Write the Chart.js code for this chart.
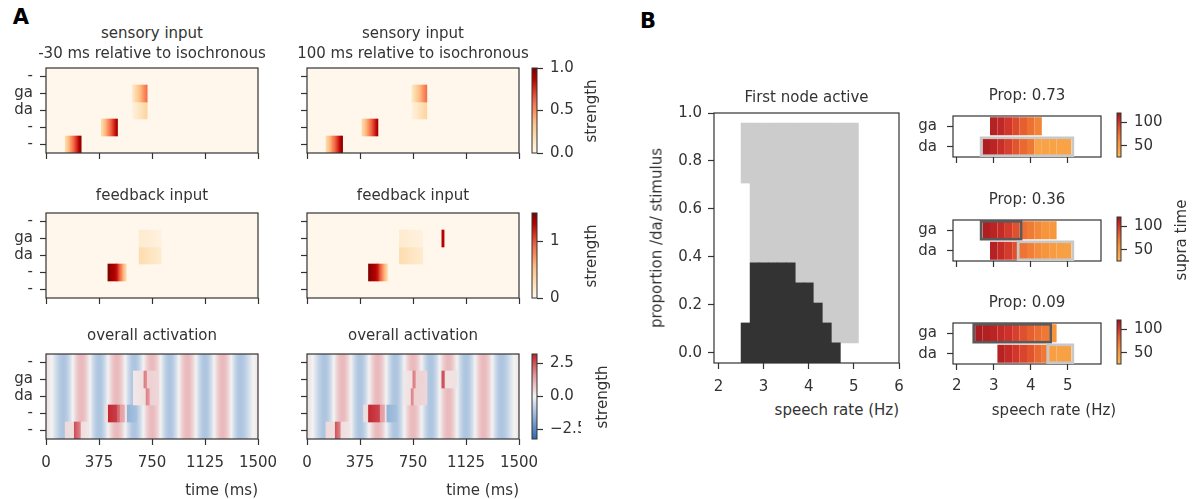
<!DOCTYPE html>
<html><head><meta charset="utf-8">
<script src="https://cdn.jsdelivr.net/npm/chart.js@4.4.1/dist/chart.umd.min.js"></script>
<style>
html,body{margin:0;padding:0;background:#fff;}
#fig{position:relative;width:1195px;height:499px;overflow:hidden;font-family:"DejaVu Sans",sans-serif;color:#333;}
canvas{position:absolute;}
.t{position:absolute;white-space:nowrap;line-height:1;}
</style></head><body><div id="fig"></div>
<script>
// ================= DATA =================
// Panel A heatmaps
const TIME_TICKS = [0, 375, 750, 1125, 1500];
const ROWS = [0, 1, 2, 3, 4];                       // bottom .. top
const ROW_LABELS = ['-', '-', 'da', 'ga', '-'];
// blocks: [row, start ms, end ms, strength at start, strength at end]
const SENSORY_M30  = [[0,136,249,0.2,0.98],[1,391,506,0.2,0.92],[2,612,716,0.05,0.25],[3,612,716,0.12,0.6]];
const SENSORY_P100 = [[0,134,252,0.2,0.98],[1,389,502,0.2,0.92],[2,742,848,0.05,0.25],[3,742,848,0.12,0.6]];
const FEEDBACK_M30  = [[1,438,500,1.5,1.25],[1,500,568,1.25,0.3],[2,659,815,0.3,0.15],[3,659,815,0.15,0.07]];
const FEEDBACK_P100 = [[1,435,497,1.5,1.25],[1,497,570,1.25,0.3],[2,654,819,0.3,0.15],[3,654,819,0.15,0.07],[3,954,970,1.3,1.3]];
// background oscillation of overall activation (peak times, values)
const OSC_TIMES  = [0,125,250,375,500,625,750,875,1000,1125,1250,1375,1500];
const OSC_VALUES = [0.3,-1.1,1.0,-1.1,1.0,-1.1,1.0,-1.1,1.0,-1.1,1.0,-1.1,0.2];
const OVERALL_M30 = [
  [0,136,200,0.45,0.35],[0,200,248,2.6,1.8],[0,248,295,0.4,0.25],
  [1,417,441,0.4,0.4],[1,441,505,3.1,2.8],[1,505,525,2.3,2.1],[1,525,560,1.5,1.2],[1,560,575,0.2,0.2],[1,575,641,-1.5,-1.2],
  [2,618,708,0.2,0.35],[2,708,736,1.9,1.5],[2,736,795,0.6,0.5],
  [3,618,693,0.2,0.35],[3,693,717,2.0,1.6],[3,717,795,0.6,0.5]
];
const OVERALL_P100 = [
  [0,134,200,0.45,0.35],[0,200,240,2.5,1.8],[0,240,294,0.4,0.25],
  [1,400,435,0.4,0.4],[1,435,518,3.1,2.7],[1,518,553,1.6,1.3],[1,553,565,0.2,0.2],[1,565,636,-1.5,-1.2],
  [2,683,737,0.2,0.35],[2,737,758,1.9,1.5],[2,758,848,0.6,0.5],
  [3,683,749,0.2,0.35],[3,749,772,2.0,1.6],[3,772,848,0.6,0.5],
  [3,954,977,2.6,2.4],[3,977,1060,0.3,0.3]
];
const SENSORY_RANGE = [0, 1],      SENSORY_TICKS = [0, 0.5, 1];
const FEEDBACK_RANGE = [0, 1.5],   FEEDBACK_TICKS = [0, 1];
const OVERALL_RANGE = [-3.23, 3.23], OVERALL_TICKS = [-2.5, 0, 2.5];

// Panel B: first node active
const RATE_TICKS = [2, 3, 4, 5, 6];
const PROP_TICKS = [0, 0.2, 0.4, 0.6, 0.8, 1.0];
const RATES = [2.6,2.8,3.0,3.2,3.4,3.6,3.8,4.0,4.2,4.4,4.6,4.8,5.0];
const PROP_LOW = -0.042, PROP_HIGH = 0.958;
const DA_FIRST_TOP = [0.125,0.375,0.375,0.375,0.375,0.375,0.292,0.292,0.208,0.125,0.042,null,null];
const GA_FIRST_BOTTOM = [0.708,0.375,0.375,0.375,0.375,0.375,0.292,0.292,0.208,0.125,0.042,0.042,0.042];

// Panel B: supra-threshold time per speech-rate cell
const SMALL_RATE_TICKS = [2, 3, 4, 5];
const RATE_STEP = 0.2;
const PROPS = ['0.73', '0.36', '0.09'];
const GA_START = [2.9, 2.7, 2.5];
const GA_SUPRA = [[112,108,100,92,84,76,66],[114,110,106,98,90,76,70,64,56,54],[116,113,110,106,102,96,90,84,78,72,56]];
const DA_START = [2.7, 2.9, 3.1];
const DA_SUPRA = [[114,110,104,96,88,80,72,44,44,44,44,44],[112,106,98,90,74,68,62,56,50,48,46],[112,106,100,94,88,80,72,48,46,46]];
const GA_BOX = [null, [2.7, 3.7], [2.5, 4.5]];
const DA_BOX = [[2.7, 5.1], [3.7, 5.1], [4.5, 5.1]];
const SUPRA_RANGE = [26, 120], SUPRA_TICKS = [50, 100];

// ================= STYLE / HELPERS =================
Chart.defaults.font.family = "'DejaVu Sans', sans-serif";
Chart.defaults.font.size = 15;
Chart.defaults.color = '#333';
Chart.defaults.animation = false;
Chart.defaults.events = [];
Chart.defaults.plugins.legend.display = false;
Chart.defaults.plugins.tooltip.enabled = false;
const INK = '#333333';
const fig = document.getElementById('fig');

function lerpStops(stops, n) {
  n = Math.max(0, Math.min(1, n));
  for (let i = 1; i < stops.length; i++) {
    if (n <= stops[i][0]) {
      const [p0, c0] = stops[i-1], [p1, c1] = stops[i];
      const f = (n - p0) / ((p1 - p0) || 1);
      return 'rgb(' + c0.map((c, k) => Math.round(c + (c1[k] - c) * f)).join(',') + ')';
    }
  }
  return 'rgb(' + stops[stops.length-1][1].join(',') + ')';
}
const ORRD = [[0,[255,247,236]],[0.125,[254,232,200]],[0.25,[253,212,158]],[0.375,[253,187,132]],[0.5,[252,141,89]],[0.625,[239,101,72]],[0.75,[215,48,31]],[0.875,[179,0,0]],[1,[127,0,0]]];
const DIV = [[0,[44,105,180]],[0.25,[140,175,215]],[0.5,[243,243,243]],[0.75,[228,150,155]],[1,[192,32,42]]];
const SUP = [[0,[252,184,84]],[0.35,[246,146,58]],[0.6,[232,100,48]],[0.8,[208,50,42]],[1,[160,22,30]]];
const cmapOf = (stops, r) => v => lerpStops(stops, (v - r[0]) / (r[1] - r[0]));
const CM_SENS = cmapOf(ORRD, SENSORY_RANGE), CM_FB = cmapOf(ORRD, FEEDBACK_RANGE);
const CM_ALL = cmapOf(DIV, OVERALL_RANGE), CM_SUP = cmapOf(SUP, SUPRA_RANGE);

// colour gradient across one block; 'smooth' uses a cosine ease between the two end values
function hGrad(chart, raw, cmap, smooth) {
  const xs = chart.scales.x;
  const p0 = xs.getPixelForValue(raw.x[0]), p1 = xs.getPixelForValue(raw.x[1]);
  if (!isFinite(p0) || !isFinite(p1) || Math.abs(p1 - p0) < 0.5 || raw.v0 === raw.v1) return cmap((raw.v0 + raw.v1) / 2);
  const g = chart.ctx.createLinearGradient(p0, 0, p1, 0);
  const N = 16;
  for (let i = 0; i <= N; i++) {
    const f = smooth ? (1 - Math.cos(Math.PI * i / N)) / 2 : i / N;
    g.addColorStop(i / N, cmap(raw.v0 + (raw.v1 - raw.v0) * f));
  }
  return g;
}
function vGrad(chart, lo, hi, cmap) {
  const ys = chart.scales.y;
  const p0 = ys ? ys.getPixelForValue(lo) : NaN, p1 = ys ? ys.getPixelForValue(hi) : NaN;
  if (!isFinite(p0) || !isFinite(p1) || Math.abs(p1 - p0) < 0.5) return cmap((lo + hi) / 2);
  const g = chart.ctx.createLinearGradient(0, p0, 0, p1);
  const N = 16;
  for (let i = 0; i <= N; i++) g.addColorStop(i / N, cmap(lo + (hi - lo) * i / N));
  return g;
}

const framePlugin = {
  id: 'frame',
  afterDatasetsDraw(chart, args, opts) {
    if (!opts || !opts.show) return;
    const a = chart.chartArea, ctx = chart.ctx;
    ctx.save(); ctx.strokeStyle = INK; ctx.lineWidth = opts.lw || 1.2;
    ctx.strokeRect(a.left, a.top, a.right - a.left, a.bottom - a.top);
    ctx.restore();
  }
};
const boxPlugin = {
  id: 'boxes',
  afterDatasetsDraw(chart, args, opts) {
    if (!opts || !opts.items) return;
    const ctx = chart.ctx, xs = chart.scales.x, ys = chart.scales.y;
    const rowH = Math.abs(ys.getPixelForValue(0) - ys.getPixelForValue(1));
    opts.items.forEach(b => {
      const x0 = xs.getPixelForValue(b.x0), x1 = xs.getPixelForValue(b.x1), yc = ys.getPixelForValue(b.row);
      ctx.save(); ctx.strokeStyle = b.color; ctx.lineWidth = 2.6;
      ctx.strokeRect(x0 - 1.5, yc - rowH / 2 + 1.3, x1 - x0 + 3, rowH - 2.6);
      ctx.restore();
    });
  }
};
Chart.register(framePlugin, boxPlugin);

function linAxis(o) {
  return {
    type: 'linear', min: o.min, max: o.max, position: o.pos, offset: false,
    afterBuildTicks: s => { s.ticks = o.ticks.map(v => ({value: v})); },
    afterFit: s => { if (s.isHorizontal()) s.height = o.size; else s.width = o.size; },
    ticks: {display: o.show !== false, color: INK, padding: o.pad == null ? 6 : o.pad, autoSkip: false, maxRotation: 0,
            callback: o.fmt || (v => String(v))},
    grid: {display: true, offset: false, drawOnChartArea: false, drawTicks: true, tickLength: 6, color: INK, tickColor: INK, tickWidth: 1.2},
    border: {display: false}
  };
}

function makeChart(area, cfg, pad) {
  const c = document.createElement('canvas');
  const W = area.w + pad.l + pad.r, H = area.h + pad.t + pad.b;
  c.width = W; c.height = H;
  c.style.left = (area.l - pad.l) + 'px'; c.style.top = (area.t - pad.t) + 'px';
  c.style.width = W + 'px'; c.style.height = H + 'px';
  fig.appendChild(c);
  cfg.options.responsive = false;
  cfg.options.devicePixelRatio = 1;
  cfg.options.layout = {padding: {left: pad.l - (pad.yl || 0), right: pad.r - (pad.yr || 0), top: pad.t, bottom: pad.b - (pad.xb || 0)}};
  const ch = new Chart(c, cfg);
  ch.update('none');
  return ch;
}

const blocksToData = blocks => blocks.map(b => ({x: [b[1], b[2]], y: b[0], v0: b[3], v1: b[4]}));
const flatBackground = v => ROWS.map(r => ({x: [0, 1500], y: r, v0: v, v1: v}));
const oscBackground = () => ROWS.flatMap(r => OSC_TIMES.slice(0, -1).map((t, i) =>
  ({x: [t, OSC_TIMES[i + 1]], y: r, v0: OSC_VALUES[i], v1: OSC_VALUES[i + 1], smooth: true})));

const HM_PAD = {l: 50, r: 30, t: 22, b: 36, yl: 40, xb: 30};
function heatmap(area, layers, cmap, showX, showY) {
  return makeChart(area, {
    type: 'bar',
    data: {datasets: layers.map(d => ({
      data: d, borderWidth: 0, barPercentage: 1, categoryPercentage: 1, grouped: false,
      backgroundColor: ctx => ctx.type === 'data' ? hGrad(ctx.chart, ctx.raw, cmap, ctx.raw.smooth) : 'rgba(0,0,0,0)'
    }))},
    options: {
      indexAxis: 'y',
      scales: {
        x: linAxis({min: 0, max: 1500, ticks: TIME_TICKS, show: showX, size: 30, pad: 9}),
        y: linAxis({min: -0.5, max: 4.5, ticks: ROWS, show: showY, size: 40, pad: 7, fmt: v => ROW_LABELS[Math.round(v)]})
      },
      plugins: {frame: {show: true}}
    }
  }, HM_PAD);
}

function colorbar(area, range, ticks, fmt, cmap) {
  return makeChart(area, {
    type: 'bar',
    data: {labels: [''], datasets: [{data: [[range[0], range[1]]], borderWidth: 0, barPercentage: 1, categoryPercentage: 1,
      backgroundColor: ctx => ctx.type === 'data' ? vGrad(ctx.chart, range[0], range[1], cmap) : 'rgba(0,0,0,0)'}]},
    options: {
      scales: {
        x: {type: 'category', display: false, offset: true},
        y: linAxis({min: range[0], max: range[1], ticks: ticks, pos: 'right', size: 44, pad: 7, fmt: fmt})
      },
      plugins: {frame: {show: true, lw: 1}}
    }
  }, {l: 4, r: 52, t: 22, b: 22, yr: 44});
}

function txt(s, x, y, o) {
  o = o || {};
  const d = document.createElement('div');
  d.className = 't'; d.textContent = s;
  d.style.left = x + 'px'; d.style.top = y + 'px';
  d.style.fontSize = (o.size || 15) + 'px';
  if (o.bold) d.style.fontWeight = 'bold';
  if (o.color) d.style.color = o.color;
  const ax = o.align === 'right' ? '-100%' : (o.align === 'left' ? '0' : '-50%');
  d.style.transform = 'translate(' + ax + ',-50%)' + (o.rot ? ' rotate(-90deg)' : '');
  fig.appendChild(d);
}

// ================= PANEL A =================
const A_COLS = [46, 307], A_ROWS = [68, 213, 354], AW = 212, AH = 85, CB_L = 532;
const fmt1 = v => v.toFixed(1);
const fmtSigned = v => (v < 0 ? '\u2212' + (-v).toFixed(1) : v.toFixed(1));

heatmap({l: A_COLS[0], t: A_ROWS[0], w: AW, h: AH}, [blocksToData(SENSORY_M30), flatBackground(0)], CM_SENS, false, true);
heatmap({l: A_COLS[1], t: A_ROWS[0], w: AW, h: AH}, [blocksToData(SENSORY_P100), flatBackground(0)], CM_SENS, false, false);
heatmap({l: A_COLS[0], t: A_ROWS[1], w: AW, h: AH}, [blocksToData(FEEDBACK_M30), flatBackground(0)], CM_FB, false, true);
heatmap({l: A_COLS[1], t: A_ROWS[1], w: AW, h: AH}, [blocksToData(FEEDBACK_P100), flatBackground(0)], CM_FB, false, false);
heatmap({l: A_COLS[0], t: A_ROWS[2], w: AW, h: AH}, [blocksToData(OVERALL_M30), oscBackground()], CM_ALL, true, true);
heatmap({l: A_COLS[1], t: A_ROWS[2], w: AW, h: AH}, [blocksToData(OVERALL_P100), oscBackground()], CM_ALL, true, false);

colorbar({l: CB_L, t: A_ROWS[0], w: 5, h: AH}, SENSORY_RANGE, SENSORY_TICKS, fmt1, CM_SENS);
colorbar({l: CB_L, t: A_ROWS[1], w: 5, h: AH}, FEEDBACK_RANGE, FEEDBACK_TICKS, v => String(v), CM_FB);
colorbar({l: CB_L, t: A_ROWS[2], w: 5, h: AH}, OVERALL_RANGE, OVERALL_TICKS, fmtSigned, CM_ALL);

txt('A', 21, 17, {size: 21, bold: true, color: '#000'});
const cx = A_COLS.map(l => l + AW / 2);
txt('sensory input', cx[0], 33); txt('-30 ms relative to isochronous', cx[0], 53);
txt('sensory input', cx[1], 33); txt('100 ms relative to isochronous', cx[1], 53);
txt('feedback input', cx[0], 195); txt('feedback input', cx[1], 195);
txt('overall activation', cx[0], 335); txt('overall activation', cx[1], 335);
txt('time (ms)', A_COLS[0] + AW, 490, {align: 'right'});
txt('time (ms)', A_COLS[1] + AW, 490, {align: 'right'});
txt('strength', 591, A_ROWS[0] + AH / 2, {rot: true});
txt('strength', 591, A_ROWS[1] + AH / 2, {rot: true});
txt('strength', 602, A_ROWS[2] + AH / 2, {rot: true});

// ================= PANEL B =================
txt('B', 648, 21, {size: 21, bold: true, color: '#000'});
const BIG = {l: 714, t: 113, w: 185, h: 250};
makeChart(BIG, {
  type: 'bar',
  data: {datasets: [
    {data: RATES.map((r, i) => DA_FIRST_TOP[i] == null ? null : {x: r, y: [PROP_LOW, DA_FIRST_TOP[i]]}).filter(Boolean),
     backgroundColor: '#333333'},
    {data: RATES.map((r, i) => ({x: r, y: [GA_FIRST_BOTTOM[i], PROP_HIGH]})), backgroundColor: '#cccccc'}
  ].map(d => Object.assign(d, {borderWidth: 0, barPercentage: 1, categoryPercentage: 1, grouped: false}))},
  options: {
    scales: {
      x: linAxis({min: 1.9, max: 6, ticks: RATE_TICKS, size: 30, pad: 9}),
      y: linAxis({min: PROP_LOW, max: 1.0, ticks: PROP_TICKS, size: 44, pad: 6, fmt: fmt1})
    },
    plugins: {frame: {show: true}}
  }
}, {l: 50, r: 22, t: 22, b: 36, yl: 44, xb: 30});
txt('First node active', BIG.l + BIG.w / 2, 97);
txt('proportion /da/ stimulus', 657, BIG.t + BIG.h / 2, {rot: true});
txt('speech rate (Hz)', BIG.l + BIG.w, 410, {align: 'right'});

const SM_T = [113, 217, 320], SM_L = 953, SM_W = 148, SM_H = 44;
const cellsOf = (start, vals, row) => vals.map((v, i) => ({x: [start + i * RATE_STEP, start + (i + 1) * RATE_STEP], y: row, v: v}));
SM_T.forEach((t, k) => {
  const items = [];
  if (GA_BOX[k]) items.push({row: 1, x0: GA_BOX[k][0], x1: GA_BOX[k][1], color: '#5a5a5a'});
  if (DA_BOX[k]) items.push({row: 0, x0: DA_BOX[k][0], x1: DA_BOX[k][1], color: '#c8c8c8'});
  makeChart({l: SM_L, t: t, w: SM_W, h: SM_H}, {
    type: 'bar',
    data: {datasets: [{
      data: cellsOf(GA_START[k], GA_SUPRA[k], 1).concat(cellsOf(DA_START[k], DA_SUPRA[k], 0)),
      borderWidth: 0, barPercentage: 0.88, categoryPercentage: 1, grouped: false,
      backgroundColor: ctx => ctx.type === 'data' ? CM_SUP(ctx.raw.v) : 'rgba(0,0,0,0)'
    }]},
    options: {
      indexAxis: 'y',
      scales: {
        x: linAxis({min: 1.9, max: 5.9, ticks: SMALL_RATE_TICKS, show: k === 2, size: 28, pad: 7}),
        y: linAxis({min: -0.5, max: 1.5, ticks: [0, 1], size: 36, pad: 10, fmt: v => (['da', 'ga'])[Math.round(v)]})
      },
      plugins: {frame: {show: true}, boxes: {items: items}}
    }
  }, {l: 40, r: 14, t: 16, b: 32, yl: 36, xb: 28});
  colorbar({l: 1117, t: t, w: 4, h: SM_H}, SUPRA_RANGE, SUPRA_TICKS, v => String(v), CM_SUP);
  txt('Prop: ' + PROPS[k], SM_L + SM_W / 2, t - 18);
});
txt('speech rate (Hz)', 1054, 410);
txt('supra time', 1181, 240, {rot: true});
</script></body></html>
